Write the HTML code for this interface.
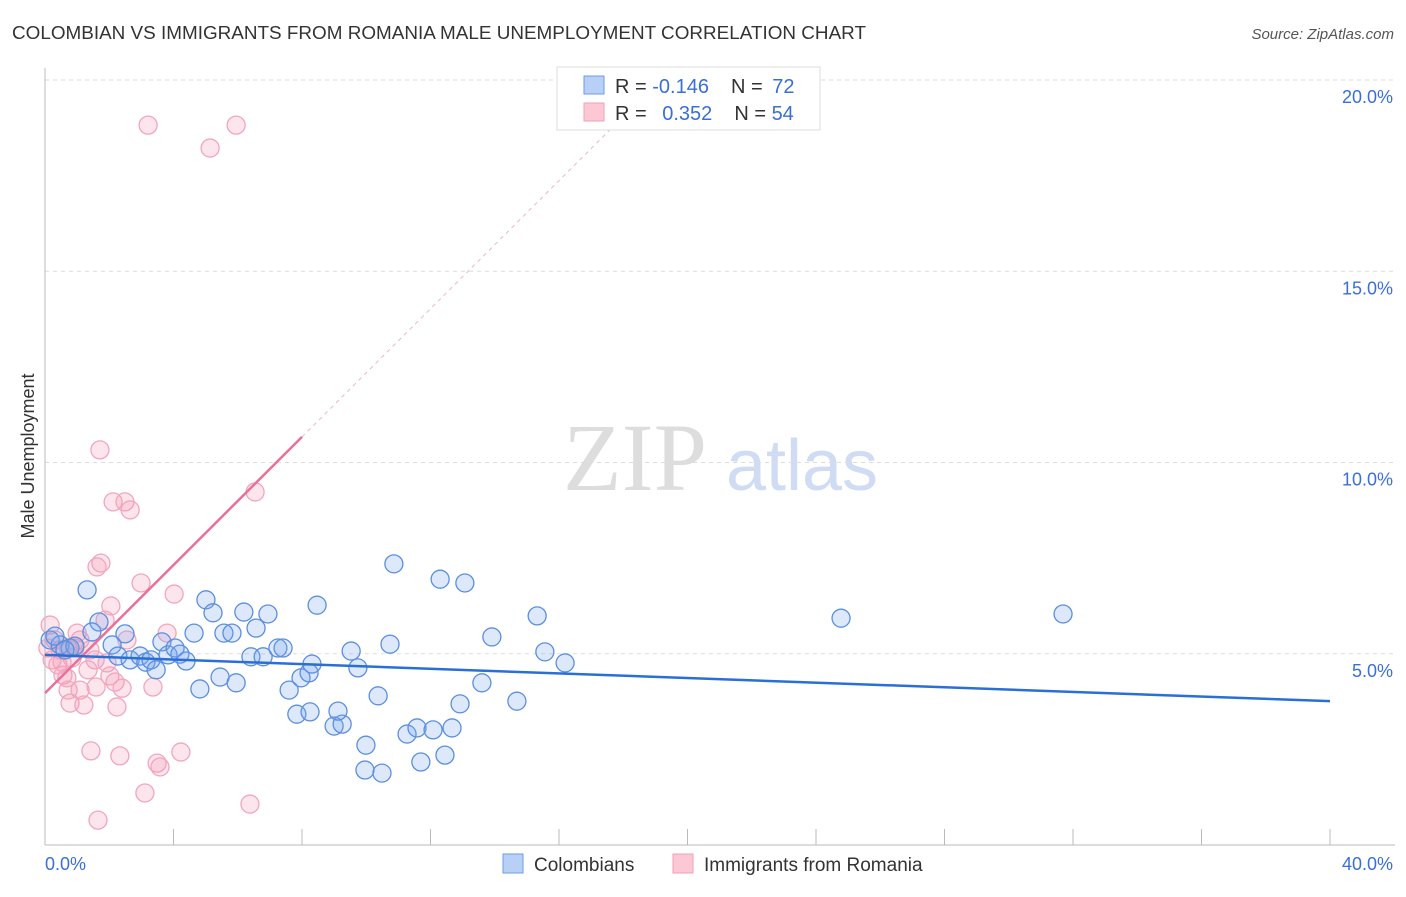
<!DOCTYPE html>
<html><head><meta charset="utf-8"><style>
body{margin:0;background:#fff;font-family:"Liberation Sans",sans-serif}
</style></head><body>
<svg width="1406" height="892" xmlns="http://www.w3.org/2000/svg" id="chart">
<text x="12" y="39" font-size="18" fill="#333" textLength="854" lengthAdjust="spacingAndGlyphs">COLOMBIAN VS IMMIGRANTS FROM ROMANIA MALE UNEMPLOYMENT CORRELATION CHART</text>
<text x="1394" y="39" font-size="15" fill="#555" font-style="italic" text-anchor="end">Source: ZipAtlas.com</text>
<g>
<text x="635" y="490" font-size="96" font-family="Liberation Serif,serif" fill="#ddd" text-anchor="middle">ZIP</text>
<text x="802" y="490" font-size="72" fill="#cfdcf3" text-anchor="middle">atlas</text>
</g>
<g id="grid"></g>
<g id="axes"></g>
<g id="marks"></g>
<text x="34" y="456" font-size="18" fill="#333" text-anchor="middle" transform="rotate(-90 34 456)">Male Unemployment</text>
<g>
<rect x="557" y="67" width="263" height="63" fill="#fff" stroke="#ddd"/>
<rect x="584" y="76" width="20" height="18" fill="#b8d0f5" stroke="#6d9be6"/>
<rect x="584" y="103" width="20" height="18" fill="#fcc8d6" stroke="#f0a0b8"/>
<text x="615" y="93" font-size="20" fill="#333">R = <tspan fill="#3a6fd8">-0.146</tspan><tspan dx="22">N = </tspan><tspan fill="#3a6fd8" dx="4">72</tspan></text>
<text x="615" y="120" font-size="20" fill="#333">R = <tspan fill="#3a6fd8" dx="10">0.352</tspan><tspan dx="22">N = </tspan><tspan fill="#3a6fd8">54</tspan></text>
</g>
<g>
<rect x="503" y="854" width="20" height="19" fill="#b8d0f5" stroke="#6d9be6"/>
<text x="534" y="871" font-size="19" fill="#333">Colombians</text>
<rect x="673" y="854" width="20" height="19" fill="#fcc8d6" stroke="#f0a0b8"/>
<text x="704" y="871" font-size="19" fill="#333">Immigrants from Romania</text>
</g>
</svg>
<script>
const yTicks=[5,10,15,20];
const xTickLabels=["0.0%","40.0%"];
const blueX=[1.31,1.68,1.46,2.49,2.09,2.27,2.65,2.96,3.14,3.30,3.46,3.64,3.83,4.05,4.20,4.39,4.64,4.82,5.01,5.23,5.45,5.57,5.82,5.95,6.19,6.41,6.57,6.79,6.94,7.25,7.41,7.60,7.84,7.97,8.22,8.31,8.47,8.25,9.00,9.25,9.12,9.53,9.74,9.99,9.96,10.37,10.49,10.74,10.86,11.27,11.58,11.70,12.08,12.30,12.45,12.67,12.92,13.07,13.60,13.91,14.69,15.32,15.56,16.19,24.78,31.69,0.16,0.47,0.78,0.93,0.31,0.62];
const blueY=[6.67,5.83,5.57,5.52,5.23,4.94,4.84,4.94,4.78,4.84,4.58,5.31,4.97,5.15,4.99,4.81,5.54,4.08,6.41,6.07,4.39,5.54,5.54,4.24,6.09,4.92,5.67,4.92,6.04,5.15,5.15,4.05,3.42,4.37,4.50,4.73,6.27,3.48,3.11,3.16,3.50,5.07,4.63,2.61,1.96,3.90,1.88,5.25,7.35,2.90,3.06,2.17,3.01,6.95,2.35,3.06,3.69,6.85,4.24,5.44,3.76,5.99,5.05,4.76,5.93,6.04,5.36,5.23,5.15,5.20,5.46,5.10];
const pinkX=[3.21,5.95,5.14,1.71,2.12,2.49,2.65,6.54,1.74,1.62,2.99,4.02,2.05,3.80,2.55,0.16,0.31,0.47,0.72,0.22,0.40,0.93,1.09,1.00,1.40,1.56,0.56,0.68,0.78,0.72,1.09,1.21,1.59,1.93,2.02,2.18,2.40,2.24,3.36,1.43,2.33,3.49,3.58,4.23,3.11,1.65,6.38,0.09,1.34,1.87,0.84,0.53];
const pinkY=[18.82,18.82,18.22,10.33,8.97,8.97,8.76,9.23,7.37,7.27,6.85,6.56,6.25,5.54,5.36,5.75,5.36,5.10,5.15,4.84,4.71,5.15,5.36,5.54,5.10,4.84,4.44,4.37,3.71,4.05,4.05,3.66,4.13,4.76,4.42,4.26,4.10,3.61,4.13,2.46,2.33,2.14,2.04,2.43,1.36,0.65,1.07,5.15,4.58,5.88,4.89,4.78];
const blueTrend=[4.97,3.76];
const pinkTrend=[3.97,10.67];
const NS="http://www.w3.org/2000/svg";
const X=v=>45+v*32.125, Y=v=>845-v*38.25;
function mk(tag,attrs,parent){const e=document.createElementNS(NS,tag);for(const k in attrs)e.setAttribute(k,attrs[k]);document.getElementById(parent).appendChild(e);return e;}
yTicks.forEach(t=>{
 const l=mk('line',{x1:45,x2:1395,y1:Y(t),y2:Y(t),stroke:'#ddd','stroke-dasharray':'4,4'},'grid');
 
 
 const tx=mk('text',{x:1393,y:Y(t)+23,'font-size':18,fill:'#3a6fd8','text-anchor':'end'},'grid');
 tx.textContent=t.toFixed(1)+'%';
 
 
});
let ax=mk('line',{x1:45,x2:45,y1:68,y2:845,stroke:'#bbb'},'axes');


ax=mk('line',{x1:45,x2:1395,y1:845,y2:845,stroke:'#bbb'},'axes');


for(let i=0;i<=40;i+=4){
 const t=mk('line',{x1:X(i),x2:X(i),y1:829,y2:845,stroke:'#bbb'},'axes');
 
 
}
[[0,'start',45],[40,'end',1393]].forEach((a,i)=>{
 const t=mk('text',{x:a[2],y:870,'font-size':18,fill:'#3a6fd8','text-anchor':a[1]},'axes');
 t.textContent=xTickLabels[i];
 
 
});
pinkX.forEach((x,i)=>{
 const c=mk('circle',{cx:X(x),cy:Y(pinkY[i]),r:9,fill:'rgba(244,150,178,0.25)',stroke:'#f2a6bd','stroke-width':1.3},'marks');
 
 
});
blueX.forEach((x,i)=>{
 const c=mk('circle',{cx:X(x),cy:Y(blueY[i]),r:9,fill:'rgba(120,165,235,0.25)',stroke:'#5b8fe0','stroke-width':1.3},'marks');
 
 
});
const slope=(pinkTrend[1]-pinkTrend[0])/8;
let d=mk('line',{x1:X(8),y1:Y(pinkTrend[1]),x2:X(18),y2:Y(pinkTrend[0]+slope*18),stroke:'#e8b8c8','stroke-dasharray':'4,4'},'marks');


d=mk('line',{x1:X(0),y1:Y(pinkTrend[0]),x2:X(8),y2:Y(pinkTrend[1]),stroke:'#e8709a','stroke-width':2.5},'marks');


d=mk('line',{x1:X(0),y1:Y(blueTrend[0]),x2:X(40),y2:Y(blueTrend[1]),stroke:'#2a6fd6','stroke-width':2.5},'marks');


</script>
</body></html>
